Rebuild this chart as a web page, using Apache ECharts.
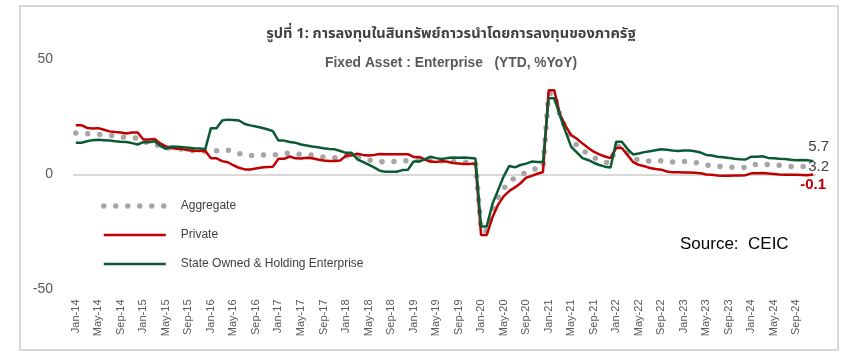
<!DOCTYPE html>
<html><head><meta charset="utf-8">
<script src="https://cdn.jsdelivr.net/npm/echarts@6/dist/echarts.min.js"></script>
<style>html,body{margin:0;padding:0;background:#fff}#c{width:863px;height:361px}</style>
</head><body><div id="c"></div>
<script>
const titleText = 'รูปที่ 1: การลงทุนในสินทรัพย์ถาวรนำโดยการลงทุนของภาครัฐ';
const subtitleText = 'Fixed Asset : Enterprise   (YTD, %YoY)';
const months = ['Jan','Feb','Mar','Apr','May','Jun','Jul','Aug','Sep','Oct','Nov','Dec'];
const years = ['14','15','16','17','18','19','20','21','22','23','24'];
const categories = [];
years.forEach(y => months.forEach(m => categories.push(m + '-' + y)));

const aggregate = [
 17.9,17.9,17.6,17.3,17.2,17.3,17.0,16.5,16.1,15.9,15.8,15.7,
 13.9,13.9,13.5,12.0,11.4,11.4,11.2,10.9,10.3,10.2,10.2,10.0,
 10.2,10.2,10.7,10.5,9.6,9.0,8.1,8.1,8.2,8.3,8.3,8.1,
 8.9,8.9,9.2,8.9,8.6,8.6,8.3,7.8,7.5,7.3,7.2,7.2,
 7.9,7.9,7.5,7.0,6.1,6.0,5.5,5.3,5.4,5.7,5.9,5.9,
 6.1,6.1,6.3,6.1,5.6,5.8,5.7,5.5,5.4,5.2,5.2,5.4,
 -24.5,-24.5,-16.1,-10.3,-6.3,-3.1,-1.6,-0.3,0.8,1.8,2.6,2.9,
 35.0,35.0,25.6,19.9,15.4,12.6,10.3,8.9,7.3,6.1,5.2,4.9,
 12.2,12.2,9.3,6.8,6.2,6.1,5.7,5.8,5.9,5.8,5.3,5.1,
 5.5,5.5,5.1,4.7,4.0,3.8,3.4,3.2,3.1,2.9,2.9,3.0,
 4.2,4.2,4.5,4.2,4.0,3.9,3.6,3.4,3.4,3.4,3.3,3.2
];
const privateInv = [
 21.3,21.3,20.1,19.9,20.0,19.3,18.6,18.3,18.1,17.7,18.1,18.1,
 15.1,15.1,15.3,13.4,12.1,11.4,11.1,10.9,10.4,10.2,10.1,10.1,
 6.9,6.9,5.7,5.2,3.9,2.8,2.1,2.1,2.5,2.9,3.1,3.2,
 6.7,6.7,7.7,6.9,6.8,7.2,6.9,6.4,6.0,5.7,5.7,6.0,
 8.1,8.1,8.9,8.4,8.1,8.4,8.8,8.7,8.7,8.7,8.7,8.7,
 7.5,7.5,6.4,5.5,5.3,5.7,5.4,4.9,4.7,4.4,4.5,4.7,
 -26.4,-26.4,-18.8,-13.3,-9.6,-7.3,-5.7,-3.9,-1.5,-0.7,0.2,1.0,
 36.4,36.4,26.0,21.0,17.0,15.4,13.4,11.5,9.8,8.6,7.7,7.0,
 11.4,11.4,8.4,5.3,4.1,3.5,2.7,2.3,2.0,1.2,0.9,0.9,
 0.8,0.8,0.6,0.4,-0.1,-0.2,-0.5,-0.7,-0.6,-0.5,-0.5,-0.4,
 0.4,0.4,0.5,0.3,0.1,-0.1,-0.2,-0.2,-0.2,-0.3,-0.4,-0.1
];
const stateOwned = [
 13.7,13.7,14.3,14.8,15.0,14.8,14.6,14.3,14.1,14.0,13.5,12.9,
 13.9,13.9,14.3,12.3,11.0,12.0,11.9,11.7,11.5,11.3,11.2,10.9,
 20.0,20.0,23.3,23.7,23.5,23.3,21.8,21.2,20.7,20.2,19.5,18.7,
 14.6,14.6,14.0,13.7,12.9,12.5,12.0,11.7,11.3,11.0,10.8,10.1,
 9.3,9.3,6.5,5.4,4.2,3.0,1.5,1.1,1.1,1.1,1.8,1.9,
 5.5,5.5,6.5,7.6,7.0,6.6,7.0,7.3,7.2,7.3,7.1,6.8,
 -22.7,-22.7,-13.0,-7.0,-1.0,3.6,3.0,4.0,4.6,5.5,5.3,5.3,
 33.0,33.0,25.5,18.5,12.0,9.5,7.0,6.2,5.0,4.0,3.3,2.9,
 14.1,14.1,11.0,8.6,9.0,9.6,10.0,10.4,10.8,10.6,10.3,10.1,
 10.3,10.3,10.0,9.4,8.4,8.1,7.6,7.4,7.1,6.7,6.5,6.4,
 7.6,7.6,7.8,7.1,6.9,6.7,6.6,6.3,6.1,6.2,6.1,5.7
];
const yTicks = [-50, 0, 50];
const seriesNames = ['Aggregate', 'Private', 'State Owned & Holding Enterprise'];
const sourceText = 'Source:  CEIC';

const last = a => a[a.length - 1].toFixed(1);
const FONT = 'Liberation Sans, Arial, sans-serif';
const GREY = '#a6a6a6', RED = '#c00000', GREEN = '#0b5a34';
const greyLine = { color: GREY, width: 5.5, type: [0, 12], cap: 'round' };
const redLine = { color: RED, width: 2.5 };
const greenLine = { color: GREEN, width: 2.5 };
const chart = echarts.init(document.getElementById('c'));
chart.setOption({
  animation: false,
  backgroundColor: '#fff',
  textStyle: { fontFamily: FONT },
  title: [
    { text: titleText, left: 446, top: 23, textAlign: 'center',
      textStyle: { fontSize: 14.6, fontWeight: 'bold', color: '#404040', fontFamily: 'Noto Sans Thai, Loma, Tahoma, ' + FONT } },
    { text: subtitleText, left: 446, top: 51, textAlign: 'center',
      textStyle: { fontSize: 13.8, fontWeight: 'bold', color: '#595959', fontFamily: FONT } }
  ],
  graphic: [
    { type: 'rect', shape: { x: 20, y: 6, width: 818, height: 344 }, style: { fill: 'none', stroke: '#d9d9d9', lineWidth: 2 }, silent: true },
    { type: 'text', left: 680, top: 236, style: { text: sourceText, fontSize: 17, fill: '#000', fontFamily: FONT } }
  ],
  legend: {
    orient: 'vertical', left: 96, top: 195, itemWidth: 62, itemHeight: 14, itemGap: 17,
    itemStyle: { color: 'rgba(0,0,0,0)', borderWidth: 0, opacity: 0 },
    textStyle: { fontSize: 12, color: '#404040', padding: [0, 0, 0, 10] },
    data: [
      { name: seriesNames[0], lineStyle: greyLine },
      { name: seriesNames[1], lineStyle: redLine },
      { name: seriesNames[2], lineStyle: greenLine }
    ]
  },
  grid: { left: 73, right: 47, top: 59, bottom: 71.5 },
  xAxis: {
    type: 'category', data: categories, boundaryGap: true,
    axisLine: { show: false }, axisTick: { show: false },
    axisLabel: { rotate: 90, interval: 3, fontSize: 11, color: '#595959', margin: 10 }
  },
  yAxis: {
    type: 'value', min: yTicks[0], max: yTicks[2], interval: 50,
    axisLine: { show: false }, axisTick: { show: false },
    axisLabel: { fontSize: 14, color: '#595959', margin: 20 },
    splitLine: { show: true, lineStyle: { color: ['rgba(0,0,0,0)', '#d9d9d9', 'rgba(0,0,0,0)'], width: 2 } }
  },
  series: [
    { name: seriesNames[0], type: 'line', data: aggregate, symbol: 'none', color: GREY,
      lineStyle: greyLine,
      endLabel: { show: true, formatter: () => last(aggregate), color: '#404040', fontSize: 15, offset: [-13, 0] } },
    { name: seriesNames[1], type: 'line', data: privateInv, symbol: 'none', color: RED,
      lineStyle: redLine,
      endLabel: { show: true, formatter: () => last(privateInv), color: RED, fontSize: 15, fontWeight: 'bold', offset: [-21, 10.5] } },
    { name: seriesNames[2], type: 'line', data: stateOwned, symbol: 'none', color: GREEN,
      lineStyle: greenLine,
      endLabel: { show: true, formatter: () => last(stateOwned), color: '#404040', fontSize: 15, offset: [-13, -14] } }
  ]
});
</script></body></html>
